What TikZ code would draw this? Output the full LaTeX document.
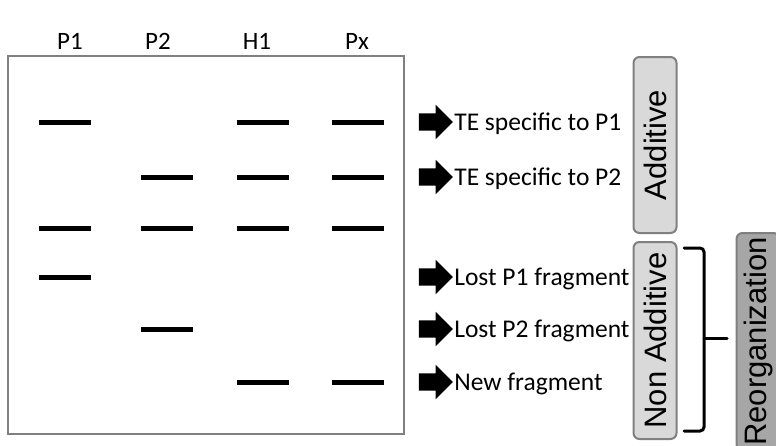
\documentclass[tikz,border=0pt]{standalone}
\usepackage{fontspec}
\setmainfont{Carlito}
\newfontfamily\boxfont{Liberation Sans}
\usepackage{tikz}
\usetikzlibrary{positioning,shapes.arrows}
\definecolor{framegray}{RGB}{128,128,128}
\definecolor{boxgray}{RGB}{217,217,217}
\definecolor{darkgray}{RGB}{166,166,166}

\begin{document}
\begin{tikzpicture}[
    x=1pt, y=-1pt,
    gel/.style={
        draw=framegray,
        line width=2.5pt,
        minimum width=396pt,
        minimum height=378pt
    },
    band/.style={
        fill=black,
        inner sep=0pt,
        minimum width=52pt,
        minimum height=5pt
    },
    lane/.style={font=\fontsize{25}{29}\selectfont, text height=16pt, text depth=0pt},
    pointer/.style={
        single arrow,
        fill=black,
        inner xsep=0pt,
        inner ysep=8.5pt,
        minimum height=34pt,
        single arrow head extend=8.5pt
    },
    note/.style={font=\fontsize{25.5}{30}\selectfont, text height=16.5pt, text depth=0pt, inner sep=0pt},
    catbox/.style={
        draw=framegray,
        line width=2pt,
        fill=boxgray,
        rounded corners=6pt,
        rotate=90,
        minimum height=43pt,
        inner sep=0pt,
        font=\boxfont\fontsize{31}{35}\selectfont
    },
    bracket/.style={line width=3pt, line cap=round}
]

\useasboundingbox (0,0) rectangle (776,445);

% gel frame and lanes
\node[gel] (gel) at (206,245) {};

\node[lane] (p1) at (70,41) {P1};
\node[lane] (p2) at (158,41) {P2};
\node[lane] (h1) at (257,41) {H1};
\node[lane] (px) at (357,41) {Px};

\foreach \x/\y in {65/122, 263/122, 358/122,
                   167/177, 263/177, 358/177,
                   65/228, 167/228, 263/228, 358/228,
                   65/277,
                   167/329,
                   263/382, 358/382}
    \node[band] (band-\x-\y) at (\x,\y) {};

% arrows and notes
\node[pointer] (a1) at (431.5,122) {};
\node[note, right=1pt of a1] (n1) {TE specific to P1};

\node[pointer] (a2) at (431.5,177) {};
\node[note, right=1pt of a2] (n2) {TE specific to P2};

\node[pointer] (a3) at (431.5,277) {};
\node[note, right=1pt of a3] (n3) {Lost P1 fragment};

\node[pointer] (a4) at (431.5,329) {};
\node[note, right=1pt of a4] (n4) {Lost P2 fragment};

\node[pointer] (a5) at (431.5,382) {};
\node[note, right=1pt of a5] (n5) {New fragment};

% categories
\node[catbox, minimum width=176pt] (add) at (655,145) {Additive};
\node[catbox, minimum width=197pt] (nonadd) at (655,340.5) {Non Additive};

\begin{scope}
    \clip (0,0) rectangle (776,445);
    \node[catbox, fill=darkgray, minimum width=217pt] (reorg) at (758,341.5) {Reorganization};
\end{scope}

\coordinate (br-top) at (684,248);
\coordinate (br-mid) at (704,338);
\coordinate (br-bot) at (684,431);
\coordinate (br-tip) at (727,338);

\draw[bracket, rounded corners=4pt] (br-top) -| (br-mid) |- (br-bot);
\draw[bracket] (br-mid) -- (br-tip);

\end{tikzpicture}
\end{document}
